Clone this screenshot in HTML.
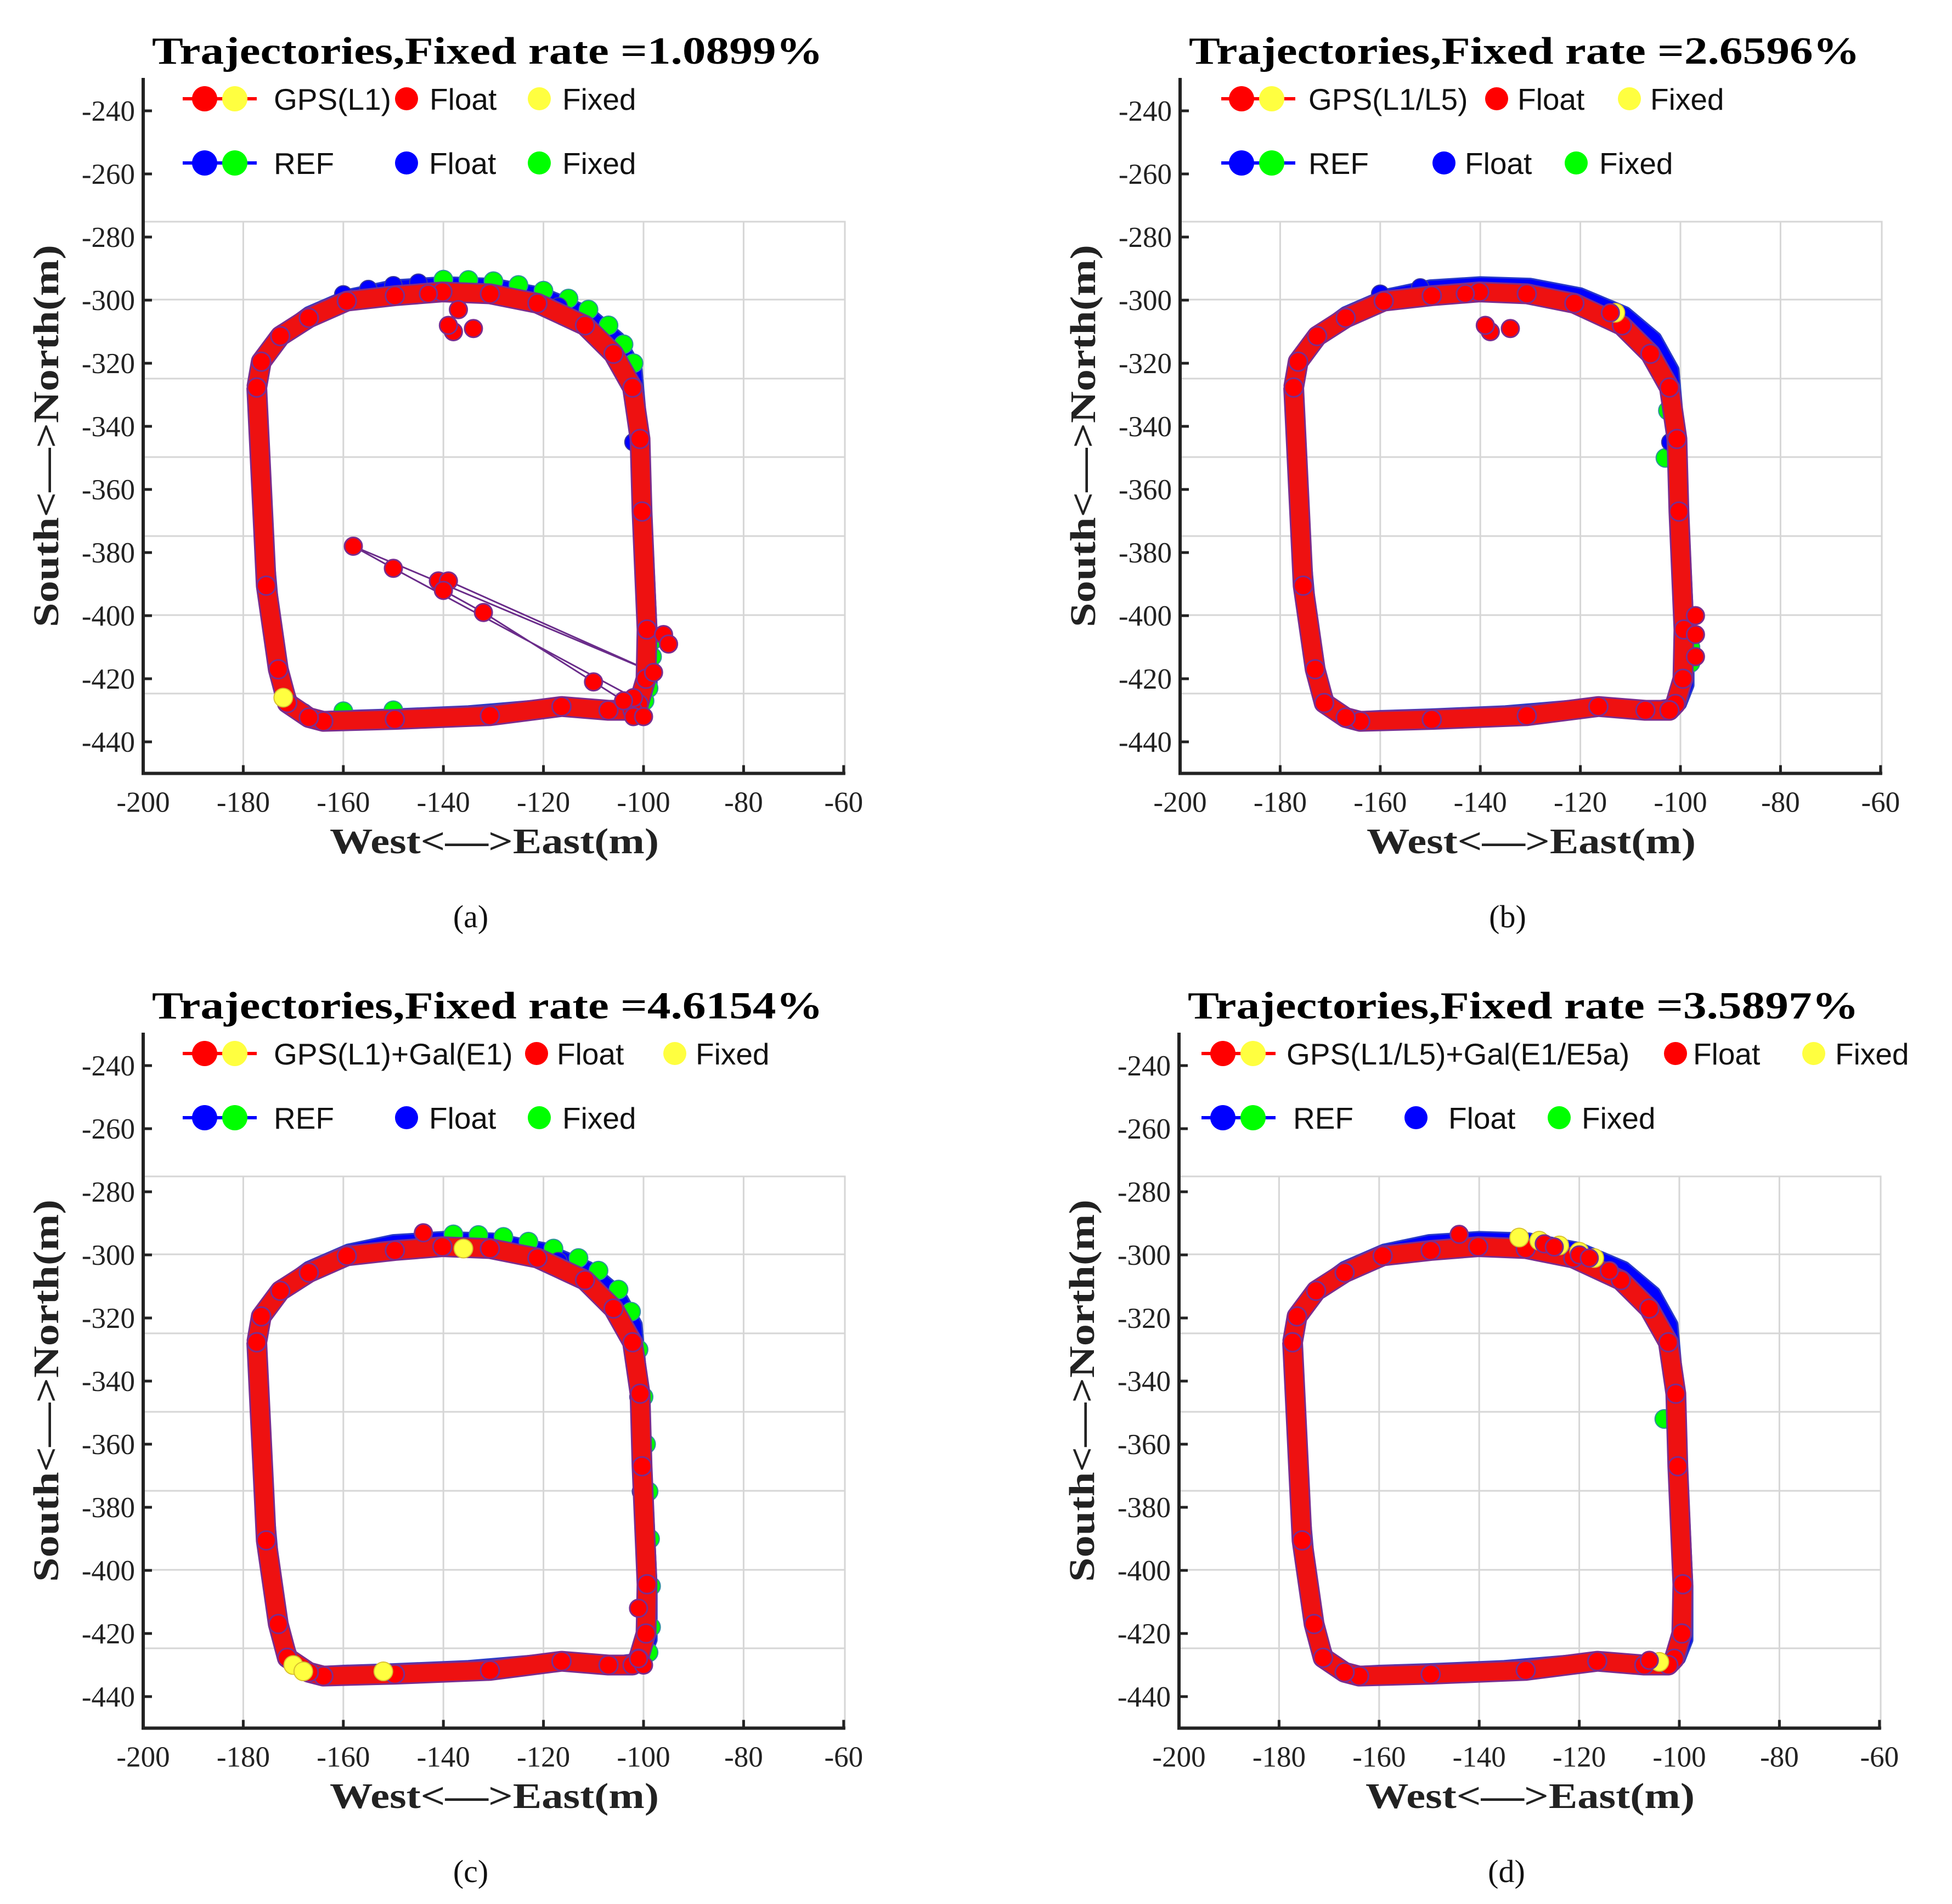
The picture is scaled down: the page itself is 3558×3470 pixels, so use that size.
<!DOCTYPE html>
<html><head><meta charset="utf-8"><style>
html,body{margin:0;padding:0;background:#fff;}
svg{display:block;}
</style></head><body>
<svg id="fig" width="3558" height="3470" viewBox="0 0 3558 3470" xmlns="http://www.w3.org/2000/svg">
<rect x="0" y="0" width="3558" height="3470" fill="#fff"/>
</svg>
<script>
// ---- data (metres) ----
const xTicks = [-200,-180,-160,-140,-120,-100,-80,-60];
const yTicks = [-240,-260,-280,-300,-320,-340,-360,-380,-400,-420,-440];
const titles = ["Trajectories,Fixed rate =1.0899%","Trajectories,Fixed rate =2.6596%","Trajectories,Fixed rate =4.6154%","Trajectories,Fixed rate =3.5897%"];
const subLabels = ["(a)","(b)","(c)","(d)"];
const gpsNames = ["GPS(L1)","GPS(L1/L5)","GPS(L1)+Gal(E1)","GPS(L1/L5)+Gal(E1/E5a)"];
// reference trajectory
const refX = [-178,-177,-173,-167,-159,-150,-140,-130,-120,-111,-105,-101.5,-100.5,-99.5,-98.5,-98.5,-100,-105,-120,-135,-150,-160,-166,-170,-172,-174,-178];
const refY = [-328,-320,-311,-304,-298.5,-295.5,-294.5,-295,-298,-304,-312,-322,-340,-370,-405,-422,-428,-429,-428.5,-430.5,-431.5,-432,-432.5,-429,-420,-400,-328];
// GPS solution trajectory
const gpsX = [-177.3,-176.4,-172.6,-166.9,-159.3,-149.7,-140.2,-130.7,-121.2,-111.7,-106,-102.2,-100.7,-100.3,-99.3,-99.5,-101,-102.2,-107,-116.4,-130.7,-149.7,-164,-166.9,-171.2,-173,-175.4,-177.3];
const gpsY = [-327.7,-319.5,-311.4,-305.6,-300.3,-298.6,-297.4,-298,-301,-308,-317,-327.7,-344,-367,-404.4,-420,-428,-430,-430,-428.8,-431.7,-432.9,-433.5,-432.3,-427.7,-417,-390.5,-327.7];
// panel (a)
const aRefGreenX = [-140,-135,-130,-125,-120,-115,-111,-107,-104,-102,-98.3,-98.3,-98.5,-99,-99.8,-168,-160,-150];
const aRefGreenY = [-293.5,-293.6,-294,-295.2,-297,-299.5,-303,-308,-314,-320,-408,-413,-418,-423,-427,-430.8,-430.3,-430];
const aRefBlueX = [-160,-155,-150,-145,-117,-102];
const aRefBlueY = [-298.2,-296.5,-295.3,-294.5,-302,-345];
const aLinkX = [-102,-150,-158,-98,-139,-140,-132,-110,-104];
const aLinkY = [-426,-385,-378,-418,-389,-392,-399,-421,-427];
const aOutX = [-102,-100,-96,-95,-138,-139,-137,-134,-143,-141];
const aOutY = [-432,-432,-406,-409,-310,-308,-303,-309,-298,-389];
const aYelX = [-172];
const aYelY = [-426];
// panel (b)
const bRefGreenX = [-102,-102.5,-103,-98,-98];
const bRefGreenY = [-328,-335,-350,-410,-415];
const bRefBlueX = [-102,-160,-152];
const bRefBlueY = [-345,-298,-296];
const bYelX = [-113];
const bYelY = [-304];
const bOutX = [-138,-139,-134,-143,-97,-97,-97,-114];
const bOutY = [-310,-308,-309,-298,-400,-406,-413,-304];
// panel (c)
const cRefGreenX = [-138,-133,-128,-123,-118,-113,-109,-105,-102.5,-101,-100,-99.5,-99,-98.7,-98.5,-98.5,-99];
const cRefGreenY = [-293.5,-293.7,-294.3,-295.8,-298,-301,-305,-311,-318,-330,-345,-360,-375,-390,-405,-418,-426];
const cRefBlueX = [-117,-100.5,-101];
const cRefBlueY = [-302,-375,-345];
const cYelX = [-170,-168,-152,-136];
const cYelY = [-430,-432,-432,-298];
const cOutX = [-144,-100,-101,-101];
const cOutY = [-293,-430,-412,-428];
// panel (d)
const dRefGreenX = [-103];
const dRefGreenY = [-352];
const dRefBlueX = [];
const dRefBlueY = [];
const dYelX = [-132,-128,-124,-120,-117,-104];
const dYelY = [-294.5,-295.5,-297,-299,-301,-429];
const dOutX = [-144,-127,-125,-120,-118,-114,-106];
const dOutY = [-293.5,-296.5,-297.5,-300,-301,-305,-428.5];

const NS = "http://www.w3.org/2000/svg";
const svg = document.getElementById('fig');
function mk(tag, attrs, parent){
  const e = document.createElementNS(NS, tag);
  for (const k in attrs) e.setAttribute(k, attrs[k]);
  (parent||svg).appendChild(e);
  return e;
}

const panels = [
  {ox:0, oy:0, g:[aRefGreenX,aRefGreenY], b:[aRefBlueX,aRefBlueY], y:[aYelX,aYelY], o:[aOutX,aOutY], link:[aLinkX,aLinkY],
   leg:{l0:333,c1:373,c2:428,t:499,f1m:741,f1t:783,x1m:983,x1t:1025,f2m:741,f2t:782,x2m:983,x2t:1025,rt:499}},
  {ox:1890, oy:0, g:[bRefGreenX,bRefGreenY], b:[bRefBlueX,bRefBlueY], y:[bYelX,bYelY], o:[bOutX,bOutY], link:null,
   leg:{l0:336,c1:373,c2:428,t:495,f1m:838,f1t:876,x1m:1080,x1t:1118,f2m:742,f2t:780,x2m:983,x2t:1025,rt:495}},
  {ox:0, oy:1740, g:[cRefGreenX,cRefGreenY], b:[cRefBlueX,cRefBlueY], y:[cYelX,cYelY], o:[cOutX,cOutY], link:null,
   leg:{l0:333,c1:373,c2:428,t:499,f1m:978,f1t:1015,x1m:1230,x1t:1268,f2m:741,f2t:782,x2m:983,x2t:1025,rt:499}},
  {ox:1888, oy:1740, g:[dRefGreenX,dRefGreenY], b:[dRefBlueX,dRefBlueY], y:[dYelX,dYelY], o:[dOutX,dOutY], link:null,
   leg:{l0:302,c1:341,c2:396,t:457,f1m:1166,f1t:1198,x1m:1418,x1t:1457,f2m:693,f2t:752,x2m:954,x2t:995,rt:469}}
];

panels.forEach((P, i) => {
  const ox = P.ox, oy = P.oy;
  const sx = v => ox + 261 + (v + 200) * 9.12;
  const sy = v => oy + 202 + (-240 - v) * 5.75;
  const g = mk('g', {});
  
  

  // plot box + grid
  const gridTop = oy + 404, gridRight = ox + 1540, axisY = sy(-450), axisX = sx(-200);
  const box = mk('rect', {x:axisX, y:gridTop, width:gridRight-axisX, height:axisY-gridTop, fill:'none', stroke:'#d6d6d6', 'stroke-width':3}, g);
  
  
  [-180,-160,-140,-120,-100,-80].forEach(v => {
    const l = mk('line', {x1:sx(v), x2:sx(v), y1:gridTop, y2:axisY, stroke:'#d6d6d6', 'stroke-width':3}, g);
    
    
  });
  [546,690,833,977,1121,1264].forEach(yy => {
    const l = mk('line', {x1:axisX, x2:gridRight, y1:oy+yy, y2:oy+yy, stroke:'#d6d6d6', 'stroke-width':3}, g);
    
    
  });

  // reference trajectory band
  const refPts = refX.map((x, k) => sx(x) + ',' + sy(refY[k])).join(' ');
  const rb = mk('polyline', {points:refPts, fill:'none', stroke:'#2a3cc8', 'stroke-width':24, 'stroke-linejoin':'round', 'stroke-linecap':'round'}, g);
  
  
  const rb2 = mk('polyline', {points:refPts, fill:'none', stroke:'#0000ff', 'stroke-width':18, 'stroke-linejoin':'round'}, g);
  
  
  P.g[0].forEach((x, k) => {
    const c = mk('circle', {cx:sx(x), cy:sy(P.g[1][k]), r:17, fill:'#00ff00', stroke:'#2f8f9f', 'stroke-width':2}, g);
    
    
  });
  P.b[0].forEach((x, k) => {
    const c = mk('circle', {cx:sx(x), cy:sy(P.b[1][k]), r:16, fill:'#0000ff', stroke:'#3a3aa0', 'stroke-width':2}, g);
    
    
  });

  // outlier links
  if (P.link) {
    const lp = P.link[0].map((x, k) => sx(x) + ',' + sy(P.link[1][k])).join(' ');
    const ln = mk('polyline', {points:lp, fill:'none', stroke:'#6a2c8a', 'stroke-width':3}, g);
    
    
  }

  // GPS trajectory band
  const gpsPts = gpsX.map((x, k) => sx(x) + ',' + sy(gpsY[k])).join(' ');
  const gb = mk('polyline', {points:gpsPts, fill:'none', stroke:'#7b2d8e', 'stroke-width':38, 'stroke-linejoin':'round'}, g);
  
  
  const gb2 = mk('polyline', {points:gpsPts, fill:'none', stroke:'#ee1111', 'stroke-width':32, 'stroke-linejoin':'round'}, g);
  
  
  gpsX.forEach((x, k) => {
    const c = mk('circle', {cx:sx(x), cy:sy(gpsY[k]), r:17, fill:'#ff0000', stroke:'#7b2d8e', 'stroke-width':3}, g);
    
    
  });
  P.y[0].forEach((x, k) => {
    const c = mk('circle', {cx:sx(x), cy:sy(P.y[1][k]), r:17, fill:'#ffff40', stroke:'#d8c030', 'stroke-width':2}, g);
    
    
  });
  P.o[0].forEach((x, k) => {
    const c = mk('circle', {cx:sx(x), cy:sy(P.o[1][k]), r:16, fill:'#ff0000', stroke:'#7b2d8e', 'stroke-width':3}, g);
    
    
  });
  if (P.link) P.link[0].forEach((x, k) => {
    const c = mk('circle', {cx:sx(x), cy:sy(P.link[1][k]), r:16, fill:'#ff0000', stroke:'#7b2d8e', 'stroke-width':3}, g);
    
    
  });

  // axes
  const ya = mk('line', {x1:axisX, x2:axisX, y1:oy+142, y2:axisY+3, stroke:'#222', 'stroke-width':6}, g);
  
  
  const xa = mk('line', {x1:axisX-3, x2:sx(-60)+3, y1:axisY, y2:axisY, stroke:'#222', 'stroke-width':6}, g);
  
  
  xTicks.forEach(v => {
    const t = mk('line', {x1:sx(v), x2:sx(v), y1:axisY, y2:axisY-15, stroke:'#222', 'stroke-width':5}, g);
    
    
    const tl = mk('text', {x:sx(v), y:axisY+70, 'text-anchor':'middle', 'font-family':'"Liberation Serif", serif', 'font-size':53, fill:'#222'}, g);
    tl.textContent = String(v);
    
    
  });
  yTicks.forEach(v => {
    const t = mk('line', {x1:axisX, x2:axisX+16, y1:sy(v), y2:sy(v), stroke:'#222', 'stroke-width':5}, g);
    
    
    const tl = mk('text', {x:ox+246, y:sy(v)+18, 'text-anchor':'end', 'font-family':'"Liberation Serif", serif', 'font-size':53, fill:'#222'}, g);
    tl.textContent = String(v);
    
    
  });

  // title and axis labels
  const tt = mk('text', {x:ox+277, y:oy+116, 'font-family':'"Liberation Serif", serif', 'font-weight':'bold', 'font-size':70, textLength:1223, lengthAdjust:'spacingAndGlyphs', fill:'#000'}, g);
  tt.textContent = titles[i];
  
  
  const xl = mk('text', {x:ox+601, y:oy+1555, 'font-family':'"Liberation Serif", serif', 'font-weight':'bold', 'font-size':66, textLength:600, lengthAdjust:'spacingAndGlyphs', fill:'#222'}, g);
  xl.textContent = 'West<\u2014>East(m)';
  
  
  const yl = mk('text', {x:0, y:0, transform:'translate(' + (ox+106) + ',' + (oy+1143) + ') rotate(-90)', 'font-family':'"Liberation Serif", serif', 'font-weight':'bold', 'font-size':66, textLength:697, lengthAdjust:'spacingAndGlyphs', fill:'#222'}, g);
  yl.textContent = 'South<\u2014>North(m)';
  
  
  const sl = mk('text', {x:ox+858, y:oy+1690, 'text-anchor':'middle', 'font-family':'"Liberation Serif", serif', 'font-size':58, fill:'#111'}, g);
  sl.textContent = subLabels[i];
  
  

  // legend
  const L = P.leg;
  const lg = mk('g', {}, g);
  
  
  const rows = [{y:oy+180, lc:'#ff0000', c1:'#ff0000', c2:'#ffff40', name:gpsNames[i], fm:L.f1m, ft:L.f1t, xm:L.x1m, xt:L.x1t, fc:'#ff0000', xc:'#ffff40', t:L.t},
                {y:oy+297, lc:'#0000ff', c1:'#0000ff', c2:'#00ff00', name:'REF', fm:L.f2m, ft:L.f2t, xm:L.x2m, xt:L.x2t, fc:'#0000ff', xc:'#00ff00', t:L.rt}];
  rows.forEach((R, ri) => {
    const ll = mk('line', {x1:ox+L.l0, x2:ox+L.l0+135, y1:R.y, y2:R.y, stroke:R.lc, 'stroke-width':6}, lg);
    
    
    const m1 = mk('circle', {cx:ox+L.c1, cy:R.y, r:23, fill:R.c1}, lg);
    
    
    const m2 = mk('circle', {cx:ox+L.c2, cy:R.y, r:23, fill:R.c2}, lg);
    
    
    const t1 = mk('text', {x:ox+R.t, y:R.y+20, 'font-family':'"Liberation Sans", sans-serif', 'font-size':55, fill:'#111'}, lg);
    t1.textContent = R.name;
    
    
    const fm = mk('circle', {cx:ox+R.fm, cy:R.y, r:21, fill:R.fc}, lg);
    
    
    const ft = mk('text', {x:ox+R.ft, y:R.y+20, 'font-family':'"Liberation Sans", sans-serif', 'font-size':55, fill:'#111'}, lg);
    ft.textContent = 'Float';
    
    
    const xm = mk('circle', {cx:ox+R.xm, cy:R.y, r:21, fill:R.xc}, lg);
    
    
    const xt = mk('text', {x:ox+R.xt, y:R.y+20, 'font-family':'"Liberation Sans", sans-serif', 'font-size':55, fill:'#111'}, lg);
    xt.textContent = 'Fixed';
    
    
  });
});
</script>
</body></html>
